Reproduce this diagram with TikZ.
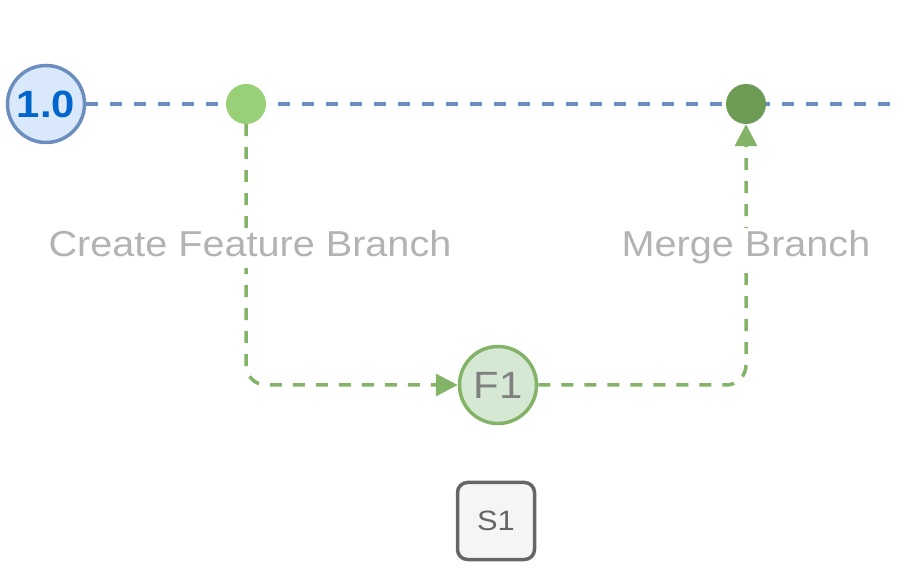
\documentclass[tikz,border=0pt]{standalone}
\usepackage{fontspec}
\setmainfont{Liberation Sans}
\newfontfamily\widefont[FakeStretch=1.1]{Liberation Sans}
\usetikzlibrary{arrows.meta,backgrounds}
\definecolor{bluefill}{HTML}{DAE8FC}
\definecolor{bluestroke}{HTML}{6C8EBF}
\definecolor{bluetext}{HTML}{0066CC}
\definecolor{greenfill}{HTML}{D5E8D4}
\definecolor{greenstroke}{HTML}{82B366}
\definecolor{lightdot}{HTML}{97D077}
\definecolor{darkdot}{HTML}{6D9A55}
\definecolor{labelgray}{HTML}{B3B3B3}
\definecolor{grayfill}{HTML}{F5F5F5}
\definecolor{graystroke}{HTML}{666666}
\definecolor{f1text}{HTML}{808080}
\tikzset{
  x=1pt, y=-1pt,
  version/.style={circle, draw=bluestroke, fill=bluefill, line width=3.5pt,
    minimum size=77pt, inner sep=0pt, text=bluetext,
    font=\widefont\fontsize{38}{40}\selectfont\bfseries},
  commitdot/.style={circle, minimum size=40pt, inner sep=0pt},
  feature/.style={circle, draw=greenstroke, fill=greenfill, line width=3.5pt,
    minimum size=77pt, inner sep=0pt, text=f1text,
    font=\widefont\fontsize{38}{40}\selectfont},
  stagebox/.style={rectangle, rounded corners=10pt, draw=graystroke, fill=grayfill,
    line width=3.5pt, minimum size=77pt, inner sep=0pt, text=graystroke,
    font=\widefont\fontsize{28}{30}\selectfont},
  steplabel/.style={fill=white, text=labelgray, inner sep=3pt,
    text height=26pt, text depth=8pt,
    font=\widefont\fontsize{36}{38}\selectfont},
  mainline/.style={draw=bluestroke, line width=3.5pt, dash pattern=on 12pt off 12pt},
  branchline/.style={draw=greenstroke, line width=3.5pt, dash pattern=on 12pt off 11pt,
    rounded corners=20pt, -{Triangle[width=22pt,length=22pt]}},
}
\begin{document}
\begin{tikzpicture}
\useasboundingbox (0,0) rectangle (898,585);
\node[version] (v10) at (46,104) {1.0};
\node[commitdot, fill=lightdot] (c1) at (246,104) {};
\node[commitdot, fill=darkdot] (c2) at (746,104) {};
\node[feature] (f1) at (498,385) {F1};
\node[stagebox] (s1) at (496,521) {S1};
\coordinate (lineend) at (898,104);
\begin{scope}[on background layer]
  \draw[mainline] (v10.east) -- (lineend);
  \draw[branchline] (c1.south) |- (f1.west);
  \draw[branchline] (f1.east) -| (c2.south);
\end{scope}
\node[steplabel] (lcreate) at (250,248) {Create Feature Branch};
\node[steplabel] (lmerge) at (746,248) {Merge Branch};
\end{tikzpicture}
\end{document}
